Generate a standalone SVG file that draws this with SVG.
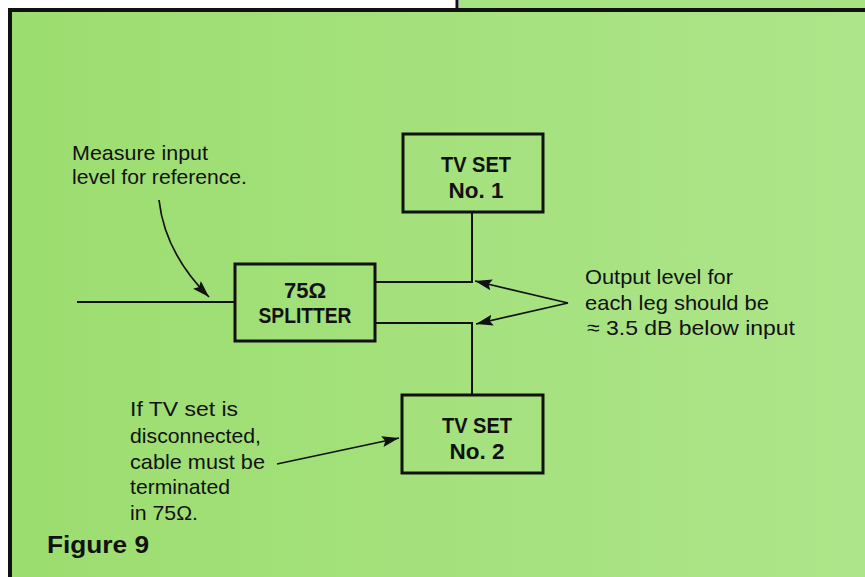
<svg xmlns="http://www.w3.org/2000/svg" width="865" height="577" viewBox="0 0 865 577">
  <defs>
    <linearGradient id="bg" x1="0" y1="0" x2="1" y2="0">
      <stop offset="0" stop-color="#9cdd6f"/>
      <stop offset="1" stop-color="#ade58a"/>
    </linearGradient>
    <marker id="ah" markerUnits="userSpaceOnUse" markerWidth="18" markerHeight="12" refX="17" refY="5.5" orient="auto">
      <path d="M0,0 L17,5.5 L0,11 L3,5.5 z" fill="#111"/>
    </marker>
    <style>
      .box { fill: none; stroke: #111; stroke-width: 3; }
      .wire { fill: none; stroke: #111; stroke-width: 2; }
      .ptr { fill: none; stroke: #111; stroke-width: 1.7; marker-end: url(#ah); }
      .lbl { font-family: "Liberation Sans", Arial, sans-serif; font-weight: bold; font-size: 22px; fill: #111; text-anchor: middle; }
      .note { font-family: "Liberation Sans", Arial, sans-serif; font-size: 21px; fill: #111; }
      .fig { font-family: "Liberation Sans", Arial, sans-serif; font-weight: bold; font-size: 24px; fill: #111; }
    </style>
  </defs>

  <!-- background / frame -->
  <rect x="0" y="0" width="865" height="577" fill="#ffffff"/>
  <rect x="10" y="10" width="855" height="567" fill="url(#bg)"/>
  <rect x="459" y="0" width="406" height="10" fill="#a8e383"/>
  <line x1="8" y1="10" x2="865" y2="10" stroke="#111" stroke-width="4"/>
  <line x1="10" y1="8" x2="10" y2="577" stroke="#111" stroke-width="4"/>
  <line x1="457" y1="0" x2="457" y2="10" stroke="#111" stroke-width="3"/>

  <!-- connectors -->
  <g id="connectors">
    <polyline class="wire" points="77,302 235,302"/>
    <polyline class="wire" points="375,282 472,282 472,212"/>
    <polyline class="wire" points="375,323 472,323 472,395"/>
    <path class="ptr" d="M159,200 C163,236 180,268 209,297"/>
    <line class="ptr" x1="568" y1="303" x2="475" y2="281"/>
    <line class="ptr" x1="568" y1="303" x2="476" y2="324"/>
    <line class="ptr" x1="277" y1="464" x2="399" y2="438"/>
  </g>

  <!-- nodes -->
  <g id="tvset1">
    <rect class="box" x="403" y="134" width="140" height="78"/>
    <text class="lbl" x="476" y="172" textLength="70" lengthAdjust="spacingAndGlyphs">TV SET</text>
    <text class="lbl" x="476" y="198" textLength="55" lengthAdjust="spacingAndGlyphs">No. 1</text>
  </g>
  <g id="splitter">
    <rect class="box" x="235" y="264" width="140" height="77"/>
    <text class="lbl" x="305" y="298">75Ω</text>
    <text class="lbl" x="305" y="323" textLength="93" lengthAdjust="spacingAndGlyphs">SPLITTER</text>
  </g>
  <g id="tvset2">
    <rect class="box" x="402" y="395" width="141" height="78"/>
    <text class="lbl" x="477" y="433" textLength="70" lengthAdjust="spacingAndGlyphs">TV SET</text>
    <text class="lbl" x="477" y="459" textLength="55" lengthAdjust="spacingAndGlyphs">No. 2</text>
  </g>

  <!-- notes -->
  <g id="note-input">
    <text class="note" x="72" y="160" textLength="136" lengthAdjust="spacingAndGlyphs">Measure input</text>
    <text class="note" x="72" y="184" textLength="175" lengthAdjust="spacingAndGlyphs">level for reference.</text>
  </g>
  <g id="note-output">
    <text class="note" x="585" y="284" textLength="148" lengthAdjust="spacingAndGlyphs">Output level for</text>
    <text class="note" x="585" y="310" textLength="184" lengthAdjust="spacingAndGlyphs">each leg should be</text>
    <text class="note" x="587" y="335" textLength="208" lengthAdjust="spacingAndGlyphs">≈ 3.5 dB below input</text>
  </g>
  <g id="note-terminate">
    <text class="note" x="130" y="416" textLength="108" lengthAdjust="spacingAndGlyphs">If TV set is</text>
    <text class="note" x="130" y="443" textLength="131" lengthAdjust="spacingAndGlyphs">disconnected,</text>
    <text class="note" x="130" y="469" textLength="135" lengthAdjust="spacingAndGlyphs">cable must be</text>
    <text class="note" x="130" y="494" textLength="100" lengthAdjust="spacingAndGlyphs">terminated</text>
    <text class="note" x="130" y="520" textLength="68" lengthAdjust="spacingAndGlyphs">in 75Ω.</text>
  </g>
  <text class="fig" x="47" y="553" textLength="102" lengthAdjust="spacingAndGlyphs">Figure 9</text>
</svg>
